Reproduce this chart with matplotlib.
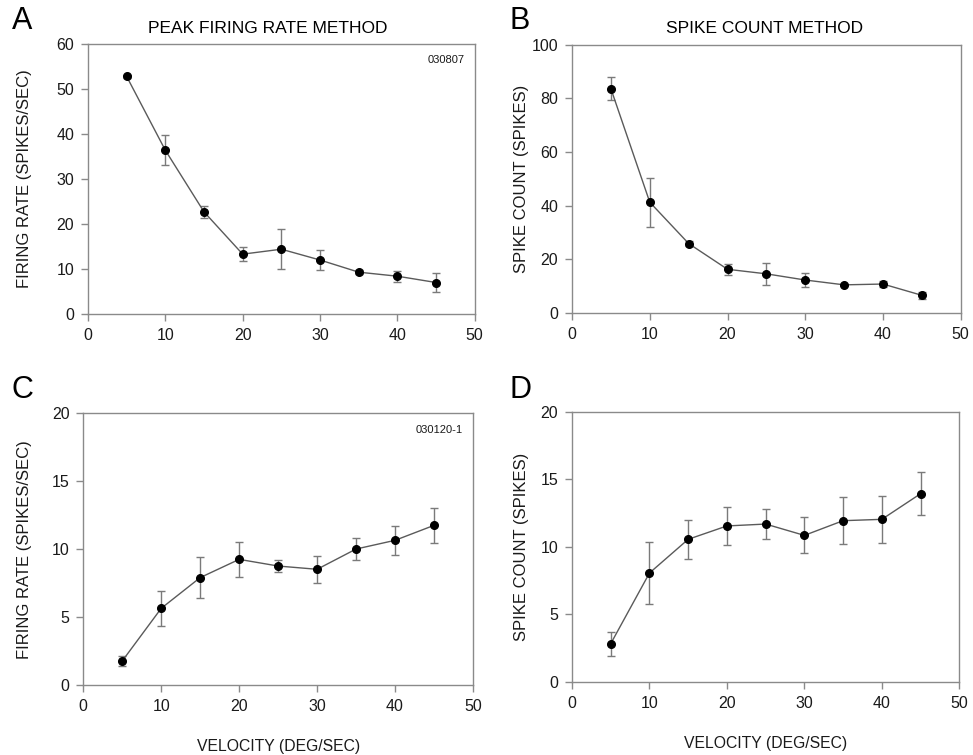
import matplotlib.pyplot as plt

plt.rcParams['font.family'] = ['Liberation Sans', 'DejaVu Sans']

velocity = [5, 10, 15, 20, 25, 30, 35, 40, 45]

# cell 030807
peak_rate_a = [52.8, 36.4, 22.7, 13.3, 14.4, 12.0, 9.3, 8.4, 7.0]
peak_rate_a_err = [0.3, 3.3, 1.4, 1.6, 4.4, 2.2, 0.5, 1.2, 2.1]
spike_count_b = [83.6, 41.3, 25.9, 16.3, 14.6, 12.3, 10.5, 10.8, 6.6]
spike_count_b_err = [4.3, 9.2, 1.0, 2.0, 4.2, 2.6, 0.5, 1.0, 1.2]

# cell 030120-1
peak_rate_c = [1.79, 5.66, 7.92, 9.26, 8.77, 8.53, 10.02, 10.66, 11.76]
peak_rate_c_err = [0.4, 1.3, 1.5, 1.27, 0.45, 1.0, 0.83, 1.08, 1.3]
spike_count_d = [2.82, 8.06, 10.56, 11.55, 11.69, 10.85, 11.94, 12.04, 13.94]
spike_count_d_err = [0.9, 2.27, 1.43, 1.42, 1.1, 1.33, 1.72, 1.72, 1.58]

fig = plt.figure(figsize=(9.73, 7.55), dpi=100)

panels = [
    ([0.0904, 0.5841, 0.3975, 0.3576], peak_rate_a, peak_rate_a_err, 60, 10,
     'FIRING RATE (SPIKES/SEC)', -0.145, '030807', False),
    ([0.5879, 0.5854, 0.3995, 0.3554], spike_count_b, spike_count_b_err, 100, 20,
     'SPIKE COUNT (SPIKES)', -0.111, None, False),
    ([0.0856, 0.0923, 0.4005, 0.3603], peak_rate_c, peak_rate_c_err, 20, 5,
     'FIRING RATE (SPIKES/SEC)', -0.131, '030120-1', True),
    ([0.5879, 0.0971, 0.3980, 0.3572], spike_count_d, spike_count_d_err, 20, 5,
     'SPIKE COUNT (SPIKES)', -0.111, None, True),
]

for rect, y, yerr, ymax, ystep, ylabel, ylab_x, cell, xlab in panels:
    ax = fig.add_axes(rect)
    ax.errorbar(velocity, y, yerr=yerr, fmt='none', ecolor='#7a7a7a',
                elinewidth=1.0, capsize=2.7, capthick=1.0, zorder=1)
    ax.plot(velocity, y, color='#5a5a5a', lw=1.0, zorder=2)
    ax.plot(velocity, y, 'o', color='black', ms=5.5, zorder=3)
    ax.set_xlim(0, 50)
    ax.set_ylim(0, ymax)
    ax.set_xticks(range(0, 51, 10))
    ax.set_yticks(range(0, ymax + 1, ystep))
    for s in ax.spines.values():
        s.set_color('#8a8a8a')
        s.set_linewidth(1.0)
    ax.tick_params(direction='out', length=5, width=1.0, color='#8a8a8a',
                   labelsize=11.5, labelcolor='#1a1a1a', pad=5)
    ax.set_ylabel(ylabel, fontsize=12, color='#1a1a1a')
    ax.yaxis.set_label_coords(ylab_x, 0.5)
    if xlab:
        ax.set_xlabel('VELOCITY (DEG/SEC)', fontsize=11.3, color='#1a1a1a', labelpad=18)
    if cell:
        ax.text(0.973, 0.94, cell, transform=ax.transAxes, ha='right', va='center',
                fontsize=8, color='#1a1a1a')

# panel letters and column titles
for x, y, s in [(0.012, 0.972, 'A'), (0.524, 0.972, 'B'),
                (0.012, 0.483, 'C'), (0.524, 0.483, 'D')]:
    fig.text(x, y, s, fontsize=22, va='center', ha='left', color='black')

fig.text(0.275, 0.962, 'PEAK FIRING RATE METHOD', fontsize=12.5, ha='center', va='center')
fig.text(0.786, 0.962, 'SPIKE COUNT METHOD', fontsize=12.5, ha='center', va='center')

plt.savefig('out.png', dpi=100)
